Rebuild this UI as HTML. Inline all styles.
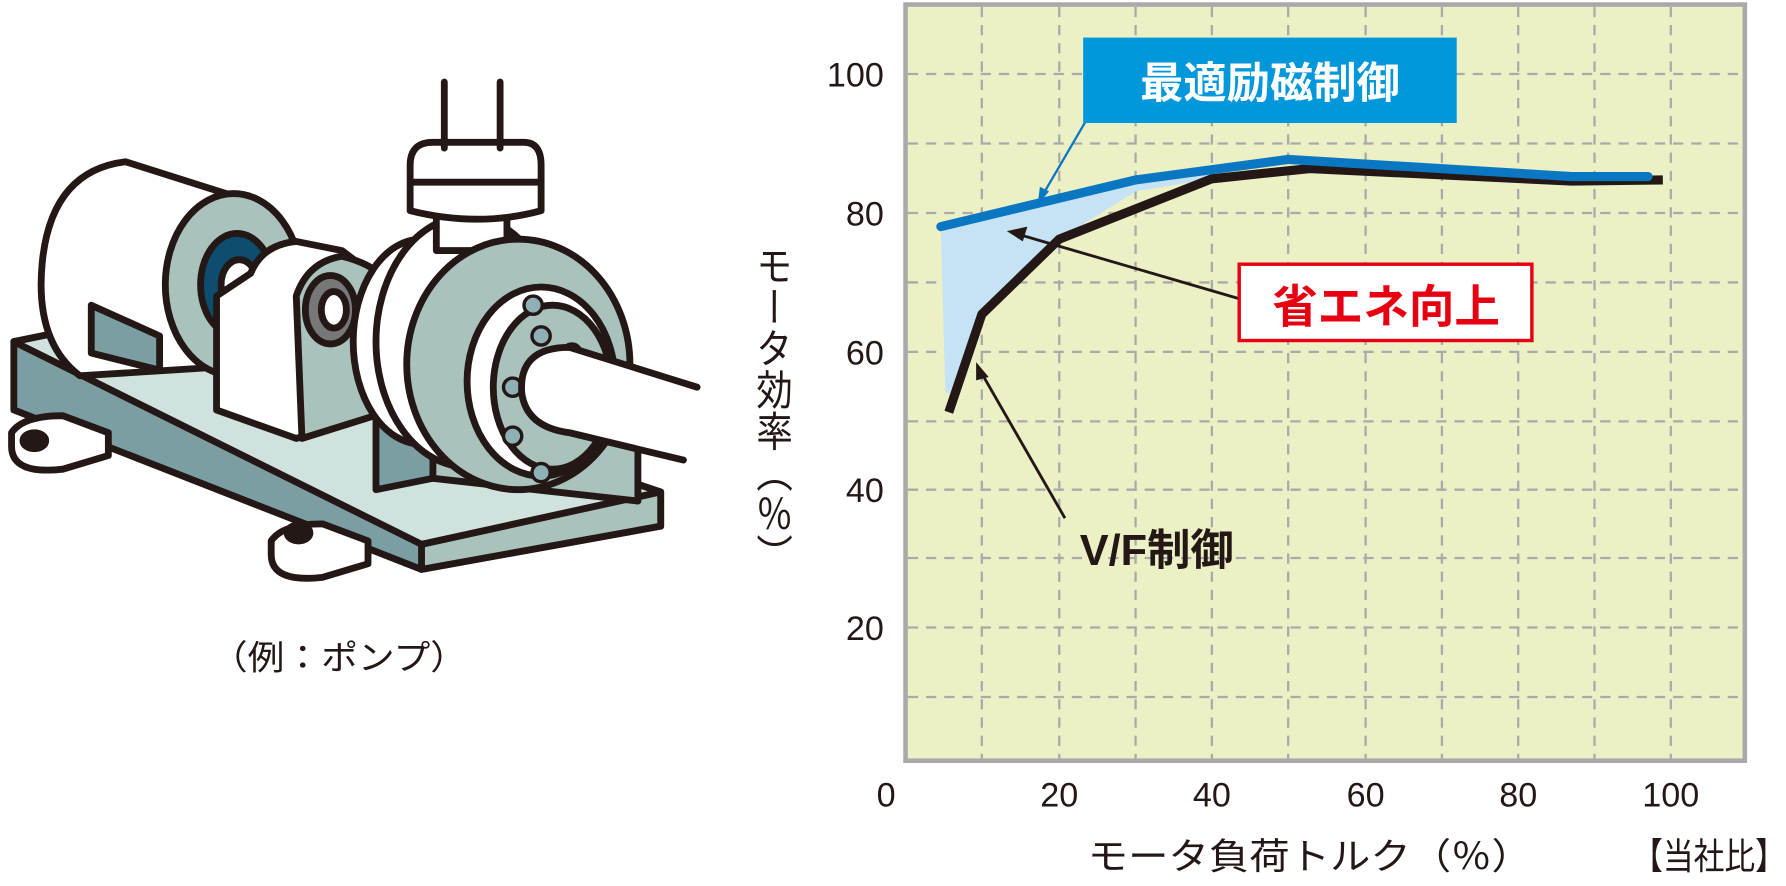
<!DOCTYPE html>
<html><head><meta charset="utf-8"><style>
html,body{margin:0;padding:0;background:#fff;width:1786px;height:886px;overflow:hidden}
svg{display:block}
text{font-family:"Liberation Sans","Noto Sans CJK JP",sans-serif}
.j{font-family:"Noto Sans CJK JP",sans-serif}
</style></head><body>
<svg width="1786" height="886" viewBox="0 0 1568 778" xmlns="http://www.w3.org/2000/svg">
<!-- plot -->
<rect x="795" y="4" width="737" height="664" fill="#ebf0c5" stroke="#a9a9a9" stroke-width="4"/>
<g stroke="#aaa" stroke-width="2" stroke-dasharray="9,7" fill="none">
<line x1="862" y1="6" x2="862" y2="666"/><line x1="930" y1="6" x2="930" y2="666"/><line x1="997" y1="6" x2="997" y2="666"/><line x1="1064" y1="6" x2="1064" y2="666"/><line x1="1131" y1="6" x2="1131" y2="666"/><line x1="1199" y1="6" x2="1199" y2="666"/><line x1="1266" y1="6" x2="1266" y2="666"/><line x1="1333" y1="6" x2="1333" y2="666"/><line x1="1400" y1="6" x2="1400" y2="666"/><line x1="1467" y1="6" x2="1467" y2="666"/>
<line x1="797" y1="65" x2="1530" y2="65"/><line x1="797" y1="126" x2="1530" y2="126"/><line x1="797" y1="187" x2="1530" y2="187"/><line x1="797" y1="248" x2="1530" y2="248"/><line x1="797" y1="309" x2="1530" y2="309"/><line x1="797" y1="370" x2="1530" y2="370"/><line x1="797" y1="430" x2="1530" y2="430"/><line x1="797" y1="490" x2="1530" y2="490"/><line x1="797" y1="551" x2="1530" y2="551"/><line x1="797" y1="612" x2="1530" y2="612"/>
</g>
<polygon points="826,200 997,158 1064,150 1064,157 997,168 930,210 862,276 836,345 830,345" fill="#c6e3f5"/>
<polyline points="833,362 862,276 930,210 1064,157 1150,148 1380,159 1460,158" fill="none" stroke="#231815" stroke-width="8" stroke-linejoin="round"/>
<polyline points="826,199 997,158 1131,140 1380,155 1447,155" fill="none" stroke="#0a77c2" stroke-width="8" stroke-linejoin="round" stroke-linecap="round"/>
<!-- labels -->
<line x1="957" y1="100" x2="915" y2="172" stroke="#0a77c2" stroke-width="2"/>
<polygon points="911,180 913,164 921,168" fill="#0a77c2"/>
<rect x="951" y="33" width="328" height="75" fill="#0097db"/>
<text x="1115" y="86" font-size="38" font-weight="bold" fill="#fff" text-anchor="middle">最適励磁制御</text>
<line x1="1087" y1="262" x2="895" y2="206" stroke="#231815" stroke-width="2.5"/>
<polygon points="884,203 902,199 898,212" fill="#231815"/>
<rect x="1088" y="232" width="257" height="67" fill="#fff" stroke="#e60012" stroke-width="3"/>
<text x="1217" y="283" font-size="40" font-weight="bold" fill="#e60012" text-anchor="middle">省エネ向上</text>
<line x1="935" y1="455" x2="862" y2="328" stroke="#231815" stroke-width="2.5"/>
<polygon points="857,318 868,331 857,334" fill="#231815"/>
<text x="948" y="496" font-size="38" font-weight="bold" fill="#231815">V/F制御</text>
<!-- ticks -->
<g font-size="30" fill="#231815" text-anchor="end">
<text x="776" y="76">100</text><text x="776" y="198">80</text><text x="776" y="320">60</text><text x="776" y="441">40</text><text x="776" y="562">20</text>
</g>
<g font-size="30" fill="#231815" text-anchor="middle">
<text x="778" y="708">0</text><text x="930" y="708">20</text><text x="1064" y="708">40</text><text x="1199" y="708">60</text><text x="1333" y="708">80</text><text x="1467" y="708">100</text>
</g>
<text class="j" x="955" y="763" font-size="32" fill="#231815" textLength="390" lengthAdjust="spacingAndGlyphs">モータ負荷トルク（％）</text>
<text class="j" x="1433" y="763" font-size="32" fill="#231815" textLength="135" lengthAdjust="spacingAndGlyphs">【当社比】</text>
<text class="j" x="680" y="215" font-size="32" fill="#231815" style="writing-mode:vertical-rl" textLength="290" lengthAdjust="spacingAndGlyphs">モータ効率（％）</text>
<!-- pump -->
<g stroke="#231815" stroke-width="6" stroke-linejoin="round" stroke-linecap="round">
<polygon points="12,300 120,278 580,432 580,462 370,500 12,360" fill="#7a9ea2"/>
<polygon points="12,300 120,278 580,432 370,478" fill="#cfe2de"/>
<polygon points="370,478 580,432 580,462 370,500" fill="#aac2bc"/>
<path d="M10,380 q10,-15 45,-15 l40,15 l0,20 l-40,12 q-45,5 -45,-20z" fill="#fff"/>
<ellipse cx="30" cy="387" rx="10" ry="7" fill="#231815"/>
<path d="M238,475 q10,-15 45,-15 l40,15 l0,20 l-40,12 q-45,5 -45,-20z" fill="#fff"/>
<ellipse cx="262" cy="468" rx="10" ry="7" fill="#231815"/>
<path d="M110,142 L230,180 L230,320 L70,330 Q30,300 37,230 Q45,150 110,142z" fill="#fff"/>
<polygon points="80,268 140,295 140,325 80,310" fill="#7a9ea2"/>
<ellipse cx="205" cy="250" rx="60" ry="80" fill="#aac2bc"/>
<ellipse cx="208" cy="250" rx="32" ry="45" fill="#0d4e6e"/>
<ellipse cx="210" cy="250" rx="16" ry="22" fill="#fff"/>
<path d="M220,240 Q230,215 260,212 L300,220 L340,250 L340,360 L260,385 L190,360 L190,260z" fill="#fff"/>
<path d="M260,260 Q270,230 300,225 Q340,235 345,260 L345,360 L265,385z" fill="#aac2bc"/>
<ellipse cx="290" cy="272" rx="22" ry="30" fill="#777"/>
<ellipse cx="293" cy="272" rx="11" ry="16" fill="#fff"/>
<polygon points="330,360 380,350 380,420 330,430" fill="#7a9ea2"/>
<polygon points="380,340 560,380 560,440 380,420" fill="#aac2bc"/>
<ellipse cx="370" cy="300" rx="60" ry="90" fill="#fff"/>
<ellipse cx="410" cy="300" rx="80" ry="110" fill="#fff"/>
<rect x="383" y="180" width="62" height="40" fill="#fff"/>
<path d="M360,145 Q360,125 380,125 L460,125 Q475,125 475,145 L475,185 Q420,200 360,185z" fill="#fff"/>
<line x1="362" y1="160" x2="473" y2="160"/>
<line x1="390" y1="72" x2="390" y2="130"/><line x1="439" y1="72" x2="439" y2="130"/>
<ellipse cx="455" cy="320" rx="98" ry="110" fill="#aac2bc"/>
<ellipse cx="475" cy="335" rx="65" ry="83" fill="#fff"/>
<ellipse cx="485" cy="340" rx="52" ry="72" fill="#aac2bc"/>
<g stroke-width="3" fill="#8fb0b5"><circle cx="475" cy="295" r="8"/><circle cx="502" cy="310" r="8"/><circle cx="450" cy="340" r="8"/><circle cx="450" cy="383" r="8"/><circle cx="475" cy="415" r="8"/><circle cx="468" cy="268" r="8"/></g>
<path d="M612,340 L500,305 Q455,305 458,345 Q462,375 500,380 L600,404" fill="#fff"/>
</g>
<text class="j" x="185" y="588" font-size="30" fill="#231815" textLength="225" lengthAdjust="spacingAndGlyphs">（例：ポンプ）</text>
</svg>
</body></html>
